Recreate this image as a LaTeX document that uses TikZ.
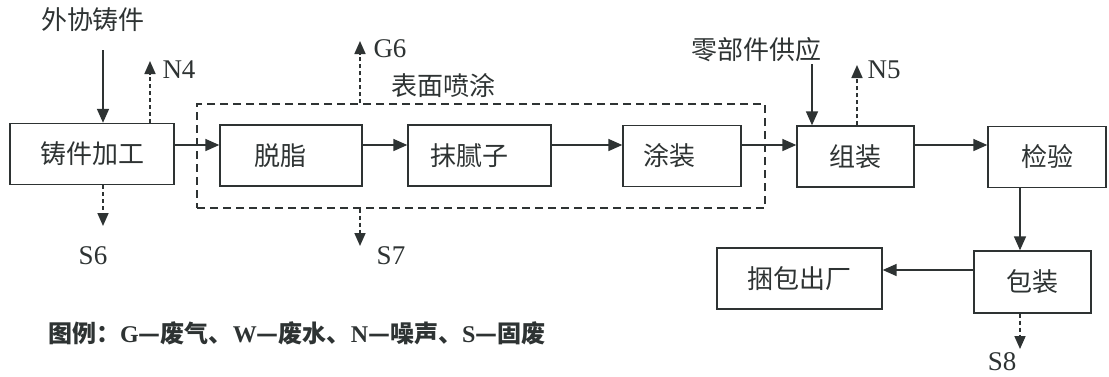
\documentclass[tikz,border=0pt]{standalone}
\usepackage{fontspec}
\setmainfont{Liberation Serif}
\newfontfamily\cjk{Noto Sans CJK SC}
\usetikzlibrary{arrows.meta}
\definecolor{ink}{HTML}{2E3333}
\tikzset{
  box/.style={draw=ink, line width=1.4pt, minimum height=61pt, inner sep=0pt, font=\cjk\fontsize{26}{26}\selectfont, text=ink},
  arr/.style={draw=ink, line width=1.7pt, -{Triangle[length=14pt,width=12pt]}},
  darr/.style={draw=ink, line width=1.7pt, dash pattern=on 4pt off 3pt, -{Triangle[length=13pt,width=11pt]}},
  lab/.style={text=ink, font=\fontsize{27}{27}\selectfont, inner sep=0pt},
  clab/.style={text=ink, font=\cjk\fontsize{26}{26}\selectfont, inner sep=0pt},
}
\begin{document}
\begin{tikzpicture}[x=1pt,y=-1pt]
\useasboundingbox (0,0) rectangle (1109,376);
\fill[white] (0,0) rectangle (1109,376);
% boxes
\node[box, minimum width=164pt] (cast) at (92,154) {铸件加工};
\node[box, minimum width=142pt] (tz) at (291,155.5) {脱脂\hspace*{22pt}};
\node[box, minimum width=143pt] (mn) at (479.5,155.5) {抹腻子\hspace*{20pt}};
\node[box, minimum width=118pt] (tzh) at (682,156) {涂装\hspace*{26pt}};
\node[box, minimum width=117pt] (zz) at (855.5,156.5) {组装};
\node[box, minimum width=118pt] (jy) at (1047,157) {检验};
\node[box, minimum width=117pt, minimum height=62pt] (bz) at (1032.5,282) {包装};
\node[box, minimum width=165pt] (kb) at (799.5,278.5) {捆包出厂};
% dashed group
\node[draw=ink, line width=1.4pt, dash pattern=on 8pt off 5pt, minimum width=568pt, minimum height=104pt, inner sep=0pt] (grp) at (481,156) {};
\node[clab] (grpl) at (443,86) {表面喷涂};
% helper coordinates
\coordinate (ay) at (0,145);
\coordinate (by) at (0,270);
\coordinate (bx) at (1020,0);
% inputs
\node[clab] (wx) at (93,20) {外协铸件};
\coordinate (in1) at (103,50);
\draw[arr] (in1) -- (in1 |- cast.north);
\node[clab] (lj) at (756,50) {零部件供应};
\coordinate (in2) at (812,64);
\draw[arr] (in2) -- (in2 |- zz.north);
% main flow
\draw[arr] (cast.east |- ay) -- (tz.west |- ay);
\draw[arr] (tz.east |- ay) -- (mn.west |- ay);
\draw[arr] (mn.east |- ay) -- (tzh.west |- ay);
\draw[arr] (tzh.east |- ay) -- (zz.west |- ay);
\draw[arr] (zz.east |- ay) -- (jy.west |- ay);
\draw[arr] (jy.south -| bx) -- (bz.north -| bx);
\draw[arr] (bz.west |- by) -- (kb.east |- by);
% emissions
\coordinate (n4) at (150,61);
\draw[darr] (n4 |- cast.north) -- (n4);
\node[lab] (n4l) at (179,70) {N4};
\coordinate (s6) at (103,226);
\draw[darr] (s6 |- cast.south) -- (s6);
\node[lab] (s6l) at (93,256) {S6};
\coordinate (g6) at (360,41);
\draw[darr] (g6 |- grp.north) -- (g6);
\node[lab] (g6l) at (390,49) {G6};
\coordinate (s7) at (360,246);
\draw[darr] (s7 |- grp.south) -- (s7);
\node[lab] (s7l) at (391,256) {S7};
\coordinate (n5) at (857,65);
\draw[darr] (n5 |- zz.north) -- (n5);
\node[lab] (n5l) at (884,70) {N5};
\coordinate (s8) at (1020,349);
\draw[darr] (s8 |- bz.south) -- (s8);
\node[lab] (s8l) at (1002,362) {S8};
% legend
\node[anchor=west, text=ink, inner sep=0pt, font=\bfseries\fontsize{24}{24}\selectfont] (leg) at (48,333) {{\cjk 图例：}G{\cjk —废气、}W{\cjk —废水、}N{\cjk —噪声、}S{\cjk —固废}};
\end{tikzpicture}
\end{document}
